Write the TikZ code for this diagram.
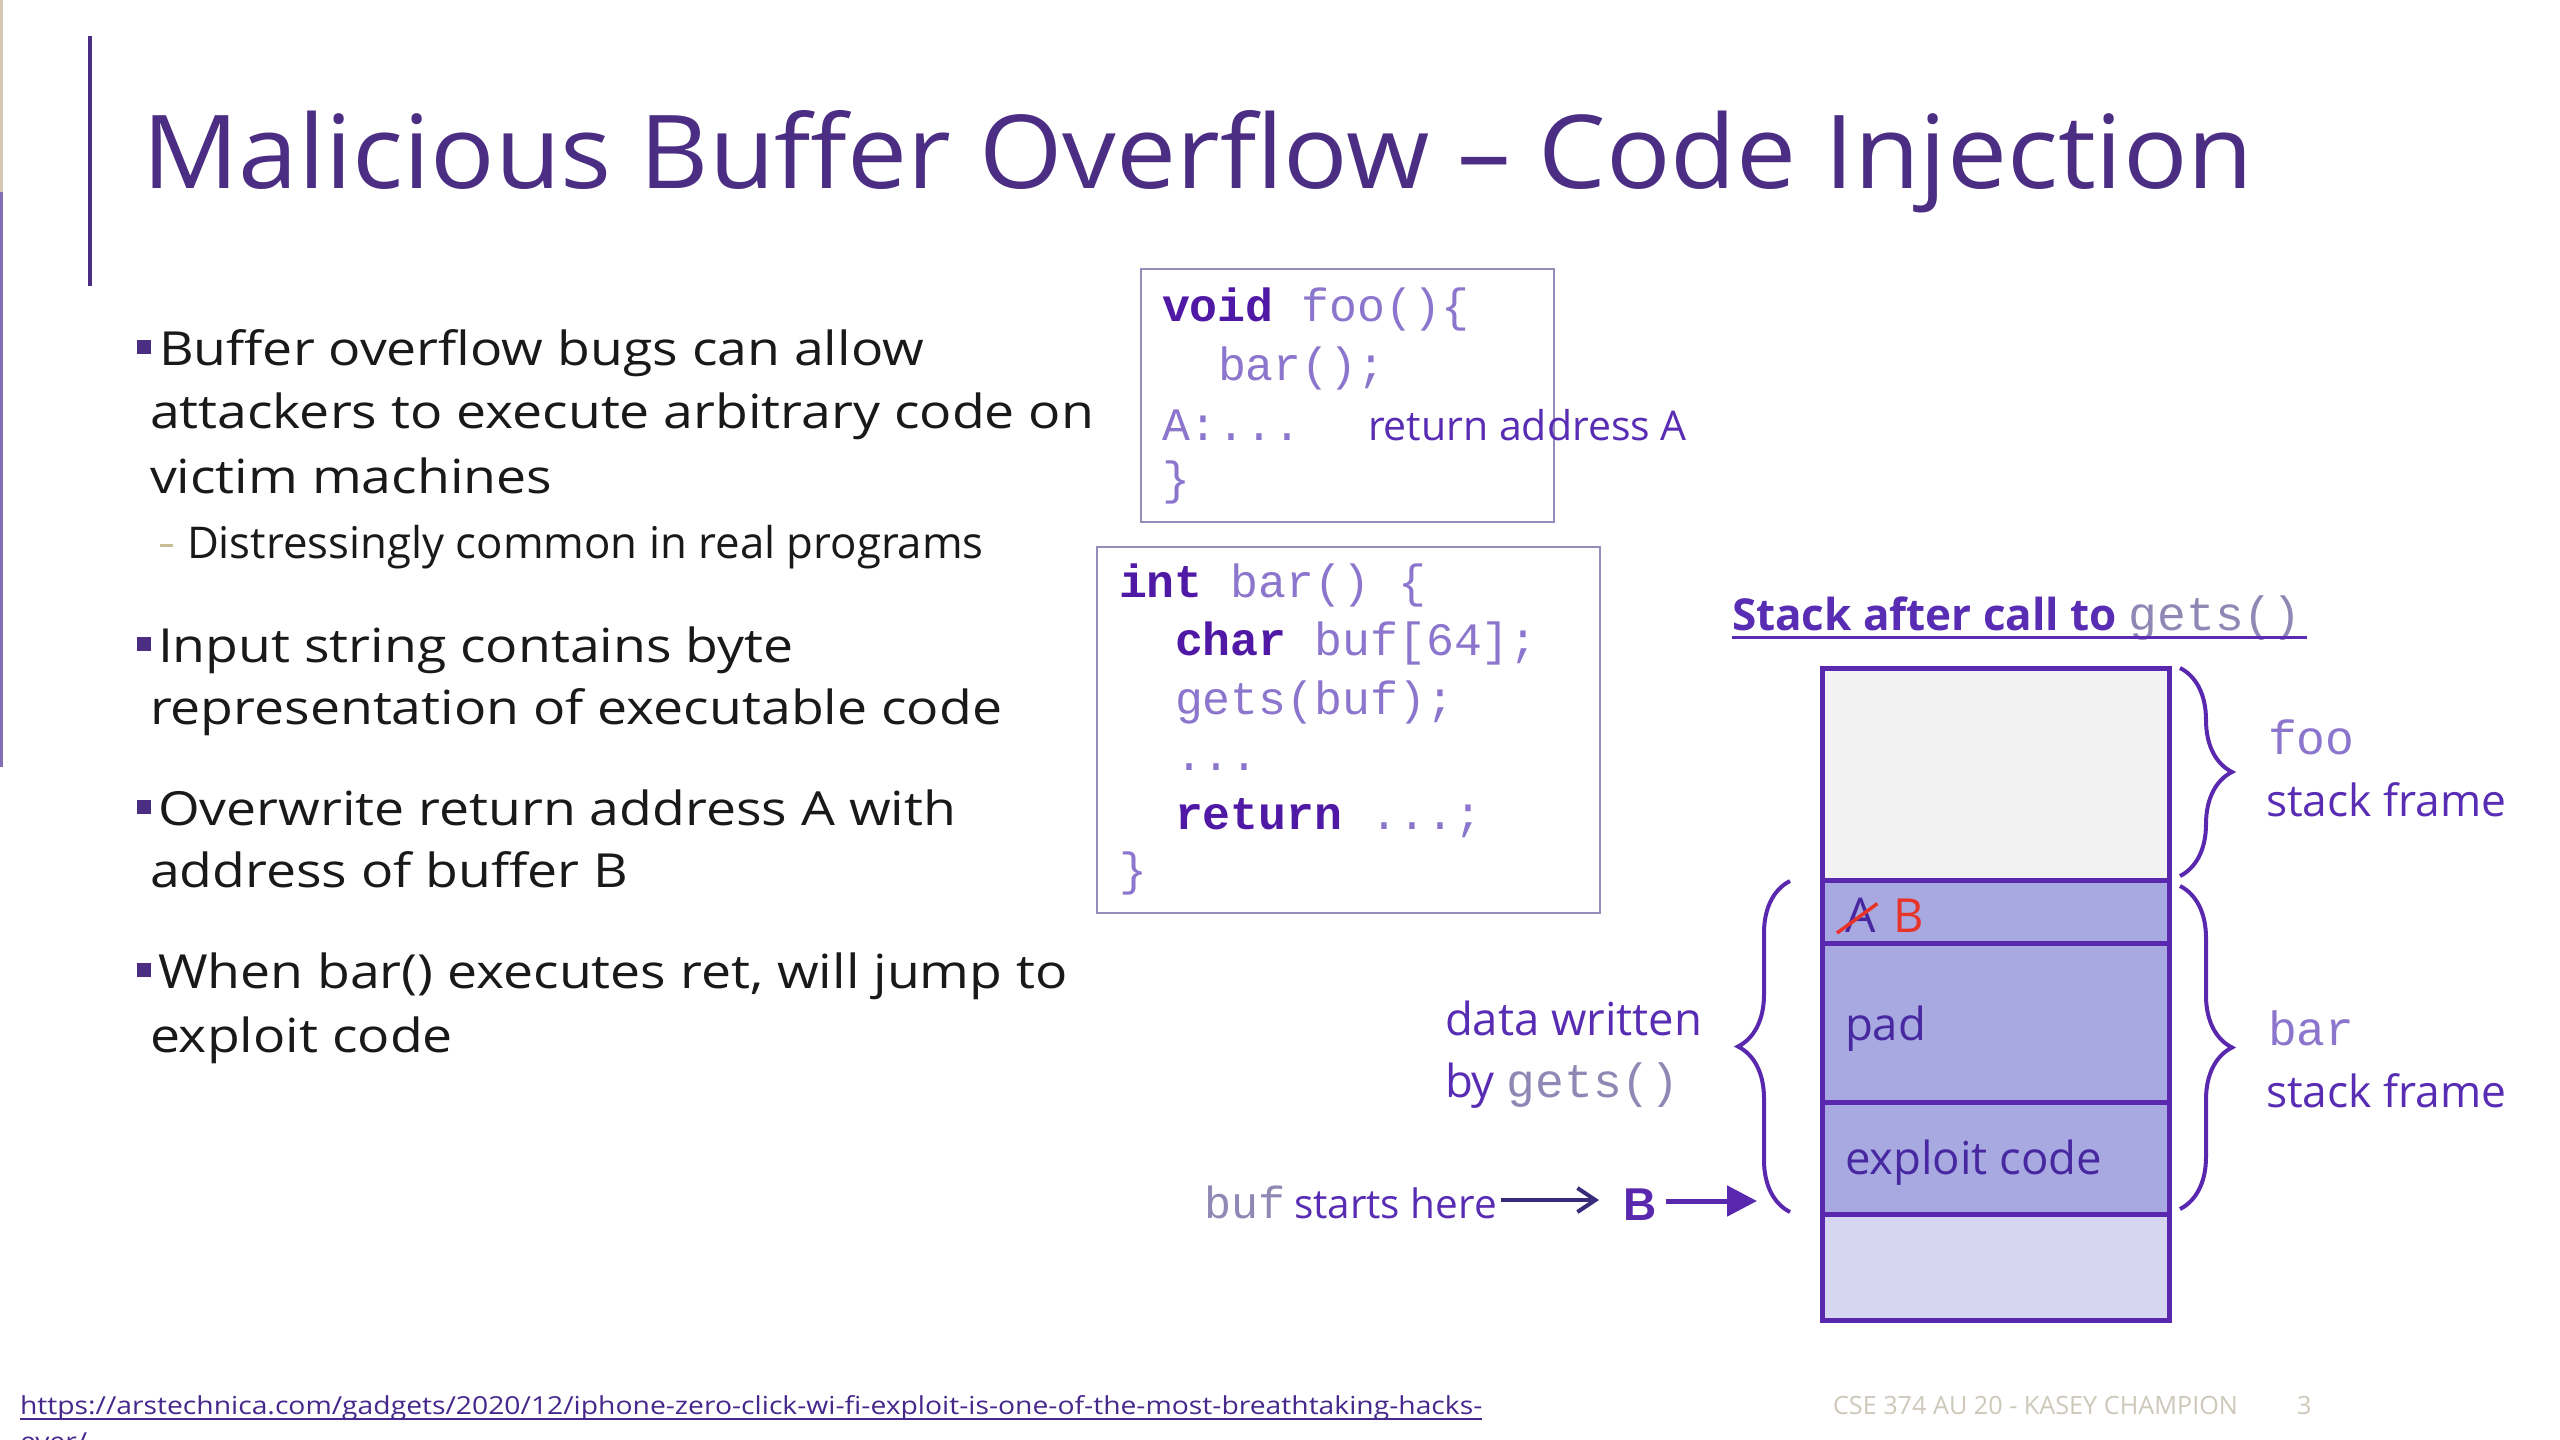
\documentclass[tikz,border=0pt]{standalone}
\usepackage{fontspec}
\setmainfont{Open Sans}
\newfontfamily\bodyfont[FakeStretch=1.14]{Open Sans}
\newfontfamily\titlefont[FakeStretch=1.05]{Open Sans}
\newfontfamily\monofont{Liberation Mono}
\newfontfamily\arialfont{Liberation Sans}
\usetikzlibrary{arrows.meta,decorations.pathreplacing}

\definecolor{titlec}{RGB}{75,46,131}
\definecolor{bodyc}{RGB}{25,25,25}
\definecolor{dashc}{RGB}{200,190,150}
\definecolor{annc}{RGB}{88,45,180}
\definecolor{celltxt}{RGB}{72,40,160}
\definecolor{kwc}{RGB}{80,25,165}
\definecolor{codec}{RGB}{140,118,205}
\definecolor{monogray}{RGB}{145,135,180}
\definecolor{boxc}{RGB}{150,140,185}
\definecolor{stackc}{RGB}{90,40,175}
\definecolor{foogray}{RGB}{242,242,242}
\definecolor{lav}{RGB}{169,169,226}
\definecolor{lavlight}{RGB}{214,214,240}
\definecolor{redc}{RGB}{232,52,40}
\definecolor{arrowdark}{RGB}{58,42,122}
\definecolor{urlc}{RGB}{70,40,140}
\definecolor{footc}{RGB}{205,200,185}
\definecolor{edgebeige}{RGB}{215,200,180}
\definecolor{edgepurple}{RGB}{130,110,180}

\newcommand{\kw}[1]{{\bfseries\color{kwc}#1}}

\tikzset{
  txt/.style={anchor=base west, inner sep=0pt, outer sep=0pt},
  bodytxt/.style={txt, text=bodyc, font=\bodyfont\fontsize{47}{60}\selectfont},
  subtxt/.style={txt, text=bodyc, font=\fontsize{43.75}{55}\selectfont},
  codetxt/.style={txt, text=codec, font=\monofont\fontsize{46.5}{56}\selectfont},
  anntxt/.style={txt, text=annc, font=\fontsize{45.5}{55}\selectfont},
  celltext/.style={txt, text=celltxt, font=\fontsize{45.5}{55}\selectfont},
  monolabel/.style={txt, text=codec, font=\monofont\fontsize{48}{56}\selectfont},
  bulletsq/.style={fill=titlec, minimum size=14pt, inner sep=0pt, outer sep=0pt},
  codebox/.style={draw=boxc, line width=2.5pt, anchor=north west, inner sep=0pt, outer sep=0pt},
  cell/.style={draw=stackc, line width=5pt, minimum width=347pt, anchor=north west, inner sep=0pt, outer sep=0pt},
  bracestyle/.style={draw=stackc, line width=4pt, decorate, decoration={brace, amplitude=52pt}},
  thinarrow/.style={draw=arrowdark, line width=3.5pt, -{Straight Barb[length=18pt,width=24pt,line width=4pt]}},
  thickarrow/.style={draw=stackc, line width=5pt, -{Triangle[length=30pt,width=30pt]}},
}

\begin{document}
\begin{tikzpicture}[x=1pt,y=-1pt]
\useasboundingbox (0,0) rectangle (2560,1440);
\fill[white] (0,0) rectangle (2560,1440);

% left edge strips
\fill[edgebeige] (0,0) rectangle (3,192);
\fill[edgepurple] (0,192) rectangle (3,767);

% title bar and title
\draw[titlec, line width=4pt] (90,36) -- (90,286);
\node[txt, text=titlec, font=\titlefont\fontsize{102}{110}\selectfont] (title) at (142,188) {Malicious Buffer Overflow – Code Injection};

% bullets
\node[bulletsq] (sq1) at (143.5,346.5) {};
\node[bodytxt] (b1a) at (159,365) {Buffer overflow bugs can allow};
\node[bodytxt] (b1b) at (150,428) {attackers to execute arbitrary code on};
\node[bodytxt] (b1c) at (150,493) {victim machines};
\fill[dashc] (160,543.5) rectangle (173,546.5);
\node[subtxt] (s1) at (187,558) {Distressingly common in real programs};

\node[bulletsq] (sq2) at (144,643.5) {};
\node[bodytxt] (b2a) at (158,662) {Input string contains byte};
\node[bodytxt] (b2b) at (150,724) {representation of executable code};

\node[bulletsq] (sq3) at (144,806.5) {};
\node[bodytxt] (b3a) at (158,825) {Overwrite return address A with};
\node[bodytxt] (b3b) at (150,887) {address of buffer B};

\node[bulletsq] (sq4) at (144,969.5) {};
\node[bodytxt] (b4a) at (158,988) {When bar() executes ret, will jump to};
\node[bodytxt] (b4b) at (150,1052) {exploit code};

% foo code box
\node[codebox, minimum width=413pt, minimum height=253pt] (foobox) at (1141,269) {};
\node[codetxt] (f1) at (1162,321) {\kw{void} foo()\{};
\node[codetxt] (f2) at (1218,380) {bar();};
\node[codetxt] (f3) at (1162,440) {A:...};
\node[codetxt] (f4) at (1162,494) {\}};
\node[txt, text=annc, font=\fontsize{41}{50}\selectfont] (retA) at (1368,440) {return address A};

% bar code box
\node[codebox, minimum width=503pt, minimum height=366pt] (barbox) at (1097,547) {};
\node[codetxt] (g1) at (1119,597) {\kw{int} bar() \{};
\node[codetxt] (g2) at (1175,655) {\kw{char} buf[64];};
\node[codetxt] (g3) at (1175,714) {gets(buf);};
\node[codetxt] (g4) at (1175,770) {...};
\node[codetxt] (g5) at (1175,829) {\kw{return} ...;};
\node[codetxt] (g6) at (1119,885) {\}};

% stack title
\node[txt, text=annc, font=\bfseries\fontsize{44}{52}\selectfont] (stitle) at (1732,630) {Stack after call to {\mdseries\monofont\fontsize{48}{52}\selectfont\color{monogray}gets()}};
\draw[annc, line width=3pt] ([yshift=-7pt]stitle.base west) -- ([yshift=-7pt,xshift=6pt]stitle.base east);

% stack cells
\node[cell, fill=foogray, minimum height=212pt] (cfoo) at (1822,668) {};
\node[cell, fill=lav, minimum height=63pt] (cab) at (1822,880) {};
\node[cell, fill=lav, minimum height=159pt] (cpad) at (1822,943) {};
\node[cell, fill=lav, minimum height=112pt] (cexp) at (1822,1102) {};
\node[cell, fill=lavlight, minimum height=106pt] (cbot) at (1822,1214) {};

\node[celltext, font=\fontsize{48}{55}\selectfont] (lA) at (1845,932) {A};
\node[txt, text=redc, font=\fontsize{47}{55}\selectfont] (lB) at (1893,932) {B};
\draw[redc, line width=3.5pt] ([xshift=-8pt,yshift=-1pt]lA.base west) -- ([xshift=2pt,yshift=-6pt]lA.north east);
\node[celltext] (lpad) at (1845,1040) {pad};
\node[celltext] (lexp) at (1845,1174) {exploit code};

% right braces and labels
\draw[bracestyle] ([xshift=11pt]cfoo.north east) -- ([xshift=11pt,yshift=4pt]cfoo.south east);
\draw[bracestyle] ([xshift=11pt,yshift=-6pt]cab.north east) -- ([xshift=11pt,yshift=5pt]cexp.south east);
\node[monolabel] (lfoo) at (2268,754) {foo};
\node[anntxt, font=\fontsize{44.3}{52}\selectfont] (lfoosf) at (2266,816) {stack frame};
\node[monolabel] (lbar) at (2268,1045) {bar};
\node[anntxt, font=\fontsize{44.3}{52}\selectfont] (lbarsf) at (2266,1107) {stack frame};

% left brace and labels
\draw[bracestyle] ([xshift=-32pt,yshift=2pt]cexp.south west) -- ([xshift=-32pt,yshift=-1pt]cab.north west);
\node[anntxt] (dw1) at (1445,1035) {data written};
\node[anntxt] (dw2) at (1445,1097) {by {\monofont\fontsize{48}{52}\selectfont\color{monogray}gets()}};

% buf starts here arrows
\node[txt, text=annc, font=\fontsize{40.5}{50}\selectfont] (bufl) at (1204,1218) {{\monofont\fontsize{45}{50}\selectfont\color{monogray}buf}\hspace{9pt}starts here};
\node[txt, text=stackc, font=\arialfont\bfseries\fontsize{46}{50}\selectfont] (Bn) at (1623,1220) {B};
\coordinate (bend) at (1757,1201);
\draw[thinarrow] ([xshift=4pt,yshift=18pt]bufl.base east) -- ([xshift=-24pt,yshift=20pt]Bn.base west);
\draw[thickarrow] ([xshift=10pt,yshift=19pt]Bn.base east) -- (bend);

% footer
\node[txt, text=urlc, font=\bodyfont\fontsize{24.8}{28}\selectfont] (url) at (20,1414) {https://arstechnica.com/gadgets/2020/12/iphone-zero-click-wi-fi-exploit-is-one-of-the-most-breathtaking-hacks-};
\draw[urlc, line width=1.5pt] ([yshift=-5pt]url.base west) -- ([yshift=-5pt]url.base east);
\node[txt, text=urlc, font=\bodyfont\fontsize{24.8}{28}\selectfont] (url2) at (20,1450) {ever/};
\node[txt, text=footc, font=\fontsize{25.2}{28}\selectfont] (foot) at (1833,1414) {CSE 374 AU 20 - KASEY CHAMPION};
\node[txt, text=footc, font=\fontsize{25.2}{28}\selectfont] (pnum) at (2297,1414) {3};
\end{tikzpicture}
\end{document}
